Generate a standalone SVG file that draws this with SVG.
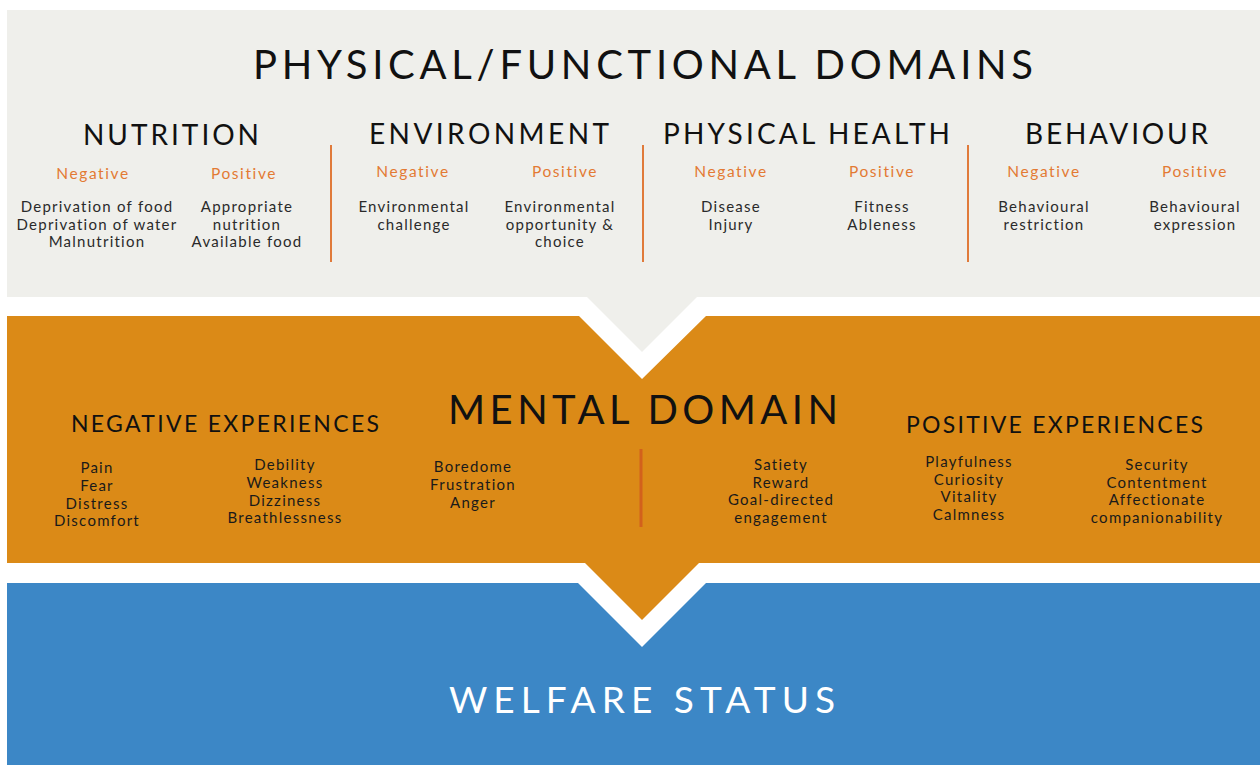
<svg xmlns="http://www.w3.org/2000/svg" width="1260" height="765" viewBox="0 0 1260 765">
<style>
text{font-family:Lato,"Noto Sans","Liberation Sans",sans-serif;text-anchor:middle}
.title{font-size:40px;fill:#111}
.head{font-size:28px;fill:#111}
.sub{font-size:23px;fill:#111}
.lab{font-size:15.5px;fill:#E37A33;letter-spacing:1.6px}
.body{font-size:15px;fill:#2a2a2a;letter-spacing:1.25px}
.mbody{font-size:15px;fill:#1a1a1a;letter-spacing:1.25px}
.div{stroke:#E07A3A;stroke-width:2}
.mdiv{stroke:#D2611C;stroke-width:3}
</style>
<rect width="1260" height="765" fill="#ffffff"/>
<g id="panels">
<path d="M7,10 H1260 V297 H697 L642,352 L587,297 H7 Z" fill="#EFEFEB"/>
<path d="M7,316 H579 L642,379 L706,316 H1260 V563 H699 L642,620 L585,563 H7 Z" fill="#DB8A17"/>
<path d="M7,583 H578 L642,647 L706,583 H1260 V765 H7 Z" fill="#3C87C6"/>
</g>
<g id="physical-functional">
<text class="title" x="643" y="79" textLength="780" lengthAdjust="spacing">PHYSICAL/FUNCTIONAL DOMAINS</text>
<line class="div" x1="331" y1="145" x2="331" y2="262"/>
<line class="div" x1="643" y1="145" x2="643" y2="262"/>
<line class="div" x1="968" y1="145" x2="968" y2="262"/>
</g>
<g id="nutrition">
<text class="head" x="171" y="145" textLength="176" lengthAdjust="spacing">NUTRITION</text>
<text class="lab" x="93" y="179">Negative</text>
<text class="lab" x="244" y="179">Positive</text>
<text class="body" x="97" y="212">Deprivation of food</text>
<text class="body" x="97" y="229.5">Deprivation of water</text>
<text class="body" x="97" y="247">Malnutrition</text>
<text class="body" x="247" y="212">Appropriate</text>
<text class="body" x="247" y="229.5">nutrition</text>
<text class="body" x="247" y="247">Available food</text>
</g>
<g id="environment">
<text class="head" x="489" y="144" textLength="240" lengthAdjust="spacing">ENVIRONMENT</text>
<text class="lab" x="413" y="177">Negative</text>
<text class="lab" x="565" y="177">Positive</text>
<text class="body" x="414" y="212">Environmental</text>
<text class="body" x="414" y="229.5">challenge</text>
<text class="body" x="560" y="212">Environmental</text>
<text class="body" x="560" y="229.5">opportunity &amp;</text>
<text class="body" x="560" y="247">choice</text>
</g>
<g id="physical-health">
<text class="head" x="806.5" y="144" textLength="287" lengthAdjust="spacing">PHYSICAL HEALTH</text>
<text class="lab" x="731" y="177">Negative</text>
<text class="lab" x="882" y="177">Positive</text>
<text class="body" x="731" y="212">Disease</text>
<text class="body" x="731" y="229.5">Injury</text>
<text class="body" x="882" y="212">Fitness</text>
<text class="body" x="882" y="229.5">Ableness</text>
</g>
<g id="behaviour">
<text class="head" x="1116.5" y="144" textLength="183" lengthAdjust="spacing">BEHAVIOUR</text>
<text class="lab" x="1044" y="177">Negative</text>
<text class="lab" x="1195" y="177">Positive</text>
<text class="body" x="1044" y="212">Behavioural</text>
<text class="body" x="1044" y="229.5">restriction</text>
<text class="body" x="1195" y="212">Behavioural</text>
<text class="body" x="1195" y="229.5">expression</text>
</g>
<g id="mental-domain">
<text class="title" x="643" y="424" textLength="390" lengthAdjust="spacing">MENTAL DOMAIN</text>
<line class="mdiv" x1="641" y1="449" x2="641" y2="527"/>
</g>
<g id="negative-experiences">
<text class="sub" x="225" y="432" textLength="308" lengthAdjust="spacing">NEGATIVE EXPERIENCES</text>
<text class="mbody" x="97" y="473">Pain</text>
<text class="mbody" x="97" y="491">Fear</text>
<text class="mbody" x="97" y="508.5">Distress</text>
<text class="mbody" x="97" y="526">Discomfort</text>
<text class="mbody" x="285" y="470">Debility</text>
<text class="mbody" x="285" y="488">Weakness</text>
<text class="mbody" x="285" y="505.5">Dizziness</text>
<text class="mbody" x="285" y="523">Breathlessness</text>
<text class="mbody" x="473" y="472">Boredome</text>
<text class="mbody" x="473" y="490">Frustration</text>
<text class="mbody" x="473" y="507.5">Anger</text>
</g>
<g id="positive-experiences">
<text class="sub" x="1054.5" y="433" textLength="297" lengthAdjust="spacing">POSITIVE EXPERIENCES</text>
<text class="mbody" x="781" y="470">Satiety</text>
<text class="mbody" x="781" y="487.5">Reward</text>
<text class="mbody" x="781" y="505">Goal-directed</text>
<text class="mbody" x="781" y="522.5">engagement</text>
<text class="mbody" x="969" y="467">Playfulness</text>
<text class="mbody" x="969" y="484.5">Curiosity</text>
<text class="mbody" x="969" y="502">Vitality</text>
<text class="mbody" x="969" y="519.5">Calmness</text>
<text class="mbody" x="1157" y="470">Security</text>
<text class="mbody" x="1157" y="487.5">Contentment</text>
<text class="mbody" x="1157" y="505">Affectionate</text>
<text class="mbody" x="1157" y="522.5">companionability</text>
</g>
<g id="welfare-status">
<text x="642" y="713" font-size="37" fill="#ffffff" textLength="386" lengthAdjust="spacing">WELFARE STATUS</text>
</g>
</svg>
